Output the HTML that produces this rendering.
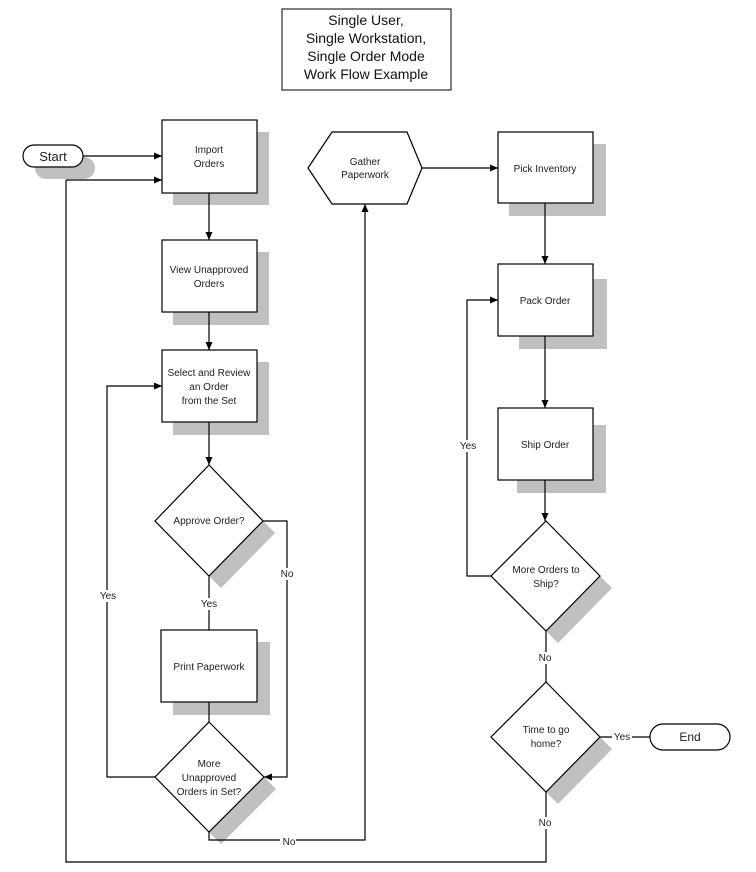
<!DOCTYPE html>
<html><head><meta charset="utf-8"><style>
html,body{margin:0;padding:0;background:#fff;}
svg{display:block;}
text{font-family:"Liberation Sans",sans-serif;font-size:10px;fill:#222;}
.t{font-size:14px;fill:#111;}
</style></head><body>
<svg width="756" height="872" viewBox="0 0 756 872" xmlns="http://www.w3.org/2000/svg">
<defs><marker id="a" markerWidth="8" markerHeight="8" refX="8" refY="4" orient="auto" markerUnits="userSpaceOnUse"><path d="M0,0.5 L8,4 L0,7.5Z" fill="#000"/></marker></defs>
<rect x="282" y="9" width="169" height="81" fill="#fff" stroke="#000"/>
<text class="t" x="366" y="25" text-anchor="middle">Single User,</text>
<text class="t" x="366" y="43" text-anchor="middle">Single Workstation,</text>
<text class="t" x="366" y="61" text-anchor="middle">Single Order Mode</text>
<text class="t" x="366" y="79" text-anchor="middle">Work Flow Example</text>
<g fill="#c0c0c0">
<rect x="35" y="157" width="60" height="22" rx="11"/>
<rect x="173" y="132" width="96" height="73"/>
<rect x="173" y="252" width="96" height="73"/>
<rect x="173" y="362" width="96" height="73"/>
<rect x="173" y="642" width="97" height="73"/>
<rect x="509" y="144" width="97" height="72"/>
<rect x="519" y="279" width="88" height="70"/>
<rect x="517" y="425" width="89" height="68"/>
<polygon points="263,521 275,533 221,588 209,576"/>
<polygon points="264,777 276,789 221,844 209,832"/>
<polygon points="600,576 612,588 558,643 546,631"/>
<polygon points="600,737 612,749 558,804 546,792"/>
</g>
<g fill="none" stroke="#000" stroke-width="1.2">
<path d="M83,156 H162" marker-end="url(#a)"/>
<path d="M66,180 H162" marker-end="url(#a)"/>
<path d="M546,792 V862 H66 V180"/>
<path d="M209,193 V240" marker-end="url(#a)"/>
<path d="M209,312 V350" marker-end="url(#a)"/>
<path d="M209,422 V465" marker-end="url(#a)"/>
<path d="M263,521 H287 V777 H264" marker-end="url(#a)"/>
<path d="M209,576 V630"/>
<path d="M209,702 V722"/>
<path d="M155,777 H107 V386 H162" marker-end="url(#a)"/>
<path d="M209,832 V840 H365 V204" marker-end="url(#a)"/>
<path d="M422,168 H498" marker-end="url(#a)"/>
<path d="M545,203 V264" marker-end="url(#a)"/>
<path d="M545,336 V408" marker-end="url(#a)"/>
<path d="M545,480 V521" marker-end="url(#a)"/>
<path d="M491,576 H467 V300 H498" marker-end="url(#a)"/>
<path d="M546,631 V682"/>
<path d="M600,737 H650"/>
</g>
<g fill="#fff" stroke="#000" stroke-width="1.2">
<rect x="23" y="145" width="60" height="22" rx="11"/>
<rect x="162" y="120" width="95" height="73"/>
<rect x="162" y="240" width="95" height="72"/>
<rect x="162" y="350" width="95" height="72"/>
<polygon points="209,465 263,521 209,576 155,521"/>
<rect x="161" y="630" width="96" height="72"/>
<polygon points="209,722 264,777 209,832 155,777"/>
<polygon points="308,168 332,132 407,132 422,168 407,204 332,204"/>
<rect x="498" y="132" width="95" height="71"/>
<rect x="498" y="264" width="95" height="72"/>
<rect x="498" y="408" width="95" height="72"/>
<polygon points="546,521 600,576 546,631 491,576"/>
<polygon points="546,682 600,737 546,792 491,737"/>
<rect x="650" y="724" width="80" height="26" rx="13"/>
</g>
<text x="53" y="161" text-anchor="middle" style="font-size:13px">Start</text>
<text x="690" y="741" text-anchor="middle" style="font-size:12px">End</text>
<g text-anchor="middle">
<text x="209" y="153">Import</text><text x="209" y="167">Orders</text>
<text x="209" y="273">View Unapproved</text><text x="209" y="287">Orders</text>
<text x="209" y="376">Select and Review</text><text x="209" y="390">an Order</text><text x="209" y="404">from the Set</text>
<text x="209" y="524">Approve Order?</text>
<text x="209" y="670">Print Paperwork</text>
<text x="209" y="767">More</text><text x="209" y="781">Unapproved</text><text x="209" y="795">Orders in Set?</text>
<text x="365" y="165">Gather</text><text x="365" y="178">Paperwork</text>
<text x="545" y="172">Pick Inventory</text>
<text x="545" y="304">Pack Order</text>
<text x="545" y="448">Ship Order</text>
<text x="546" y="573">More Orders to</text><text x="546" y="587">Ship?</text>
<text x="546" y="733">Time to go</text><text x="546" y="747">home?</text>
</g>
<g text-anchor="middle" font-size="9">
<rect x="279" y="568" width="16" height="12" fill="#fff"/><text x="287" y="577">No</text>
<rect x="99" y="590" width="18" height="12" fill="#fff"/><text x="108" y="599">Yes</text>
<rect x="200" y="598" width="18" height="12" fill="#fff"/><text x="209" y="607">Yes</text>
<rect x="280" y="836" width="16" height="10" fill="#fff"/><text x="289" y="845">No</text>
<rect x="459" y="440" width="18" height="12" fill="#fff"/><text x="468" y="449">Yes</text>
<rect x="538" y="652" width="16" height="12" fill="#fff"/><text x="545" y="661">No</text>
<rect x="612" y="731" width="20" height="12" fill="#fff"/><text x="622" y="740">Yes</text>
<rect x="538" y="817" width="16" height="12" fill="#fff"/><text x="545" y="826">No</text>
</g>
</svg>
</body></html>
